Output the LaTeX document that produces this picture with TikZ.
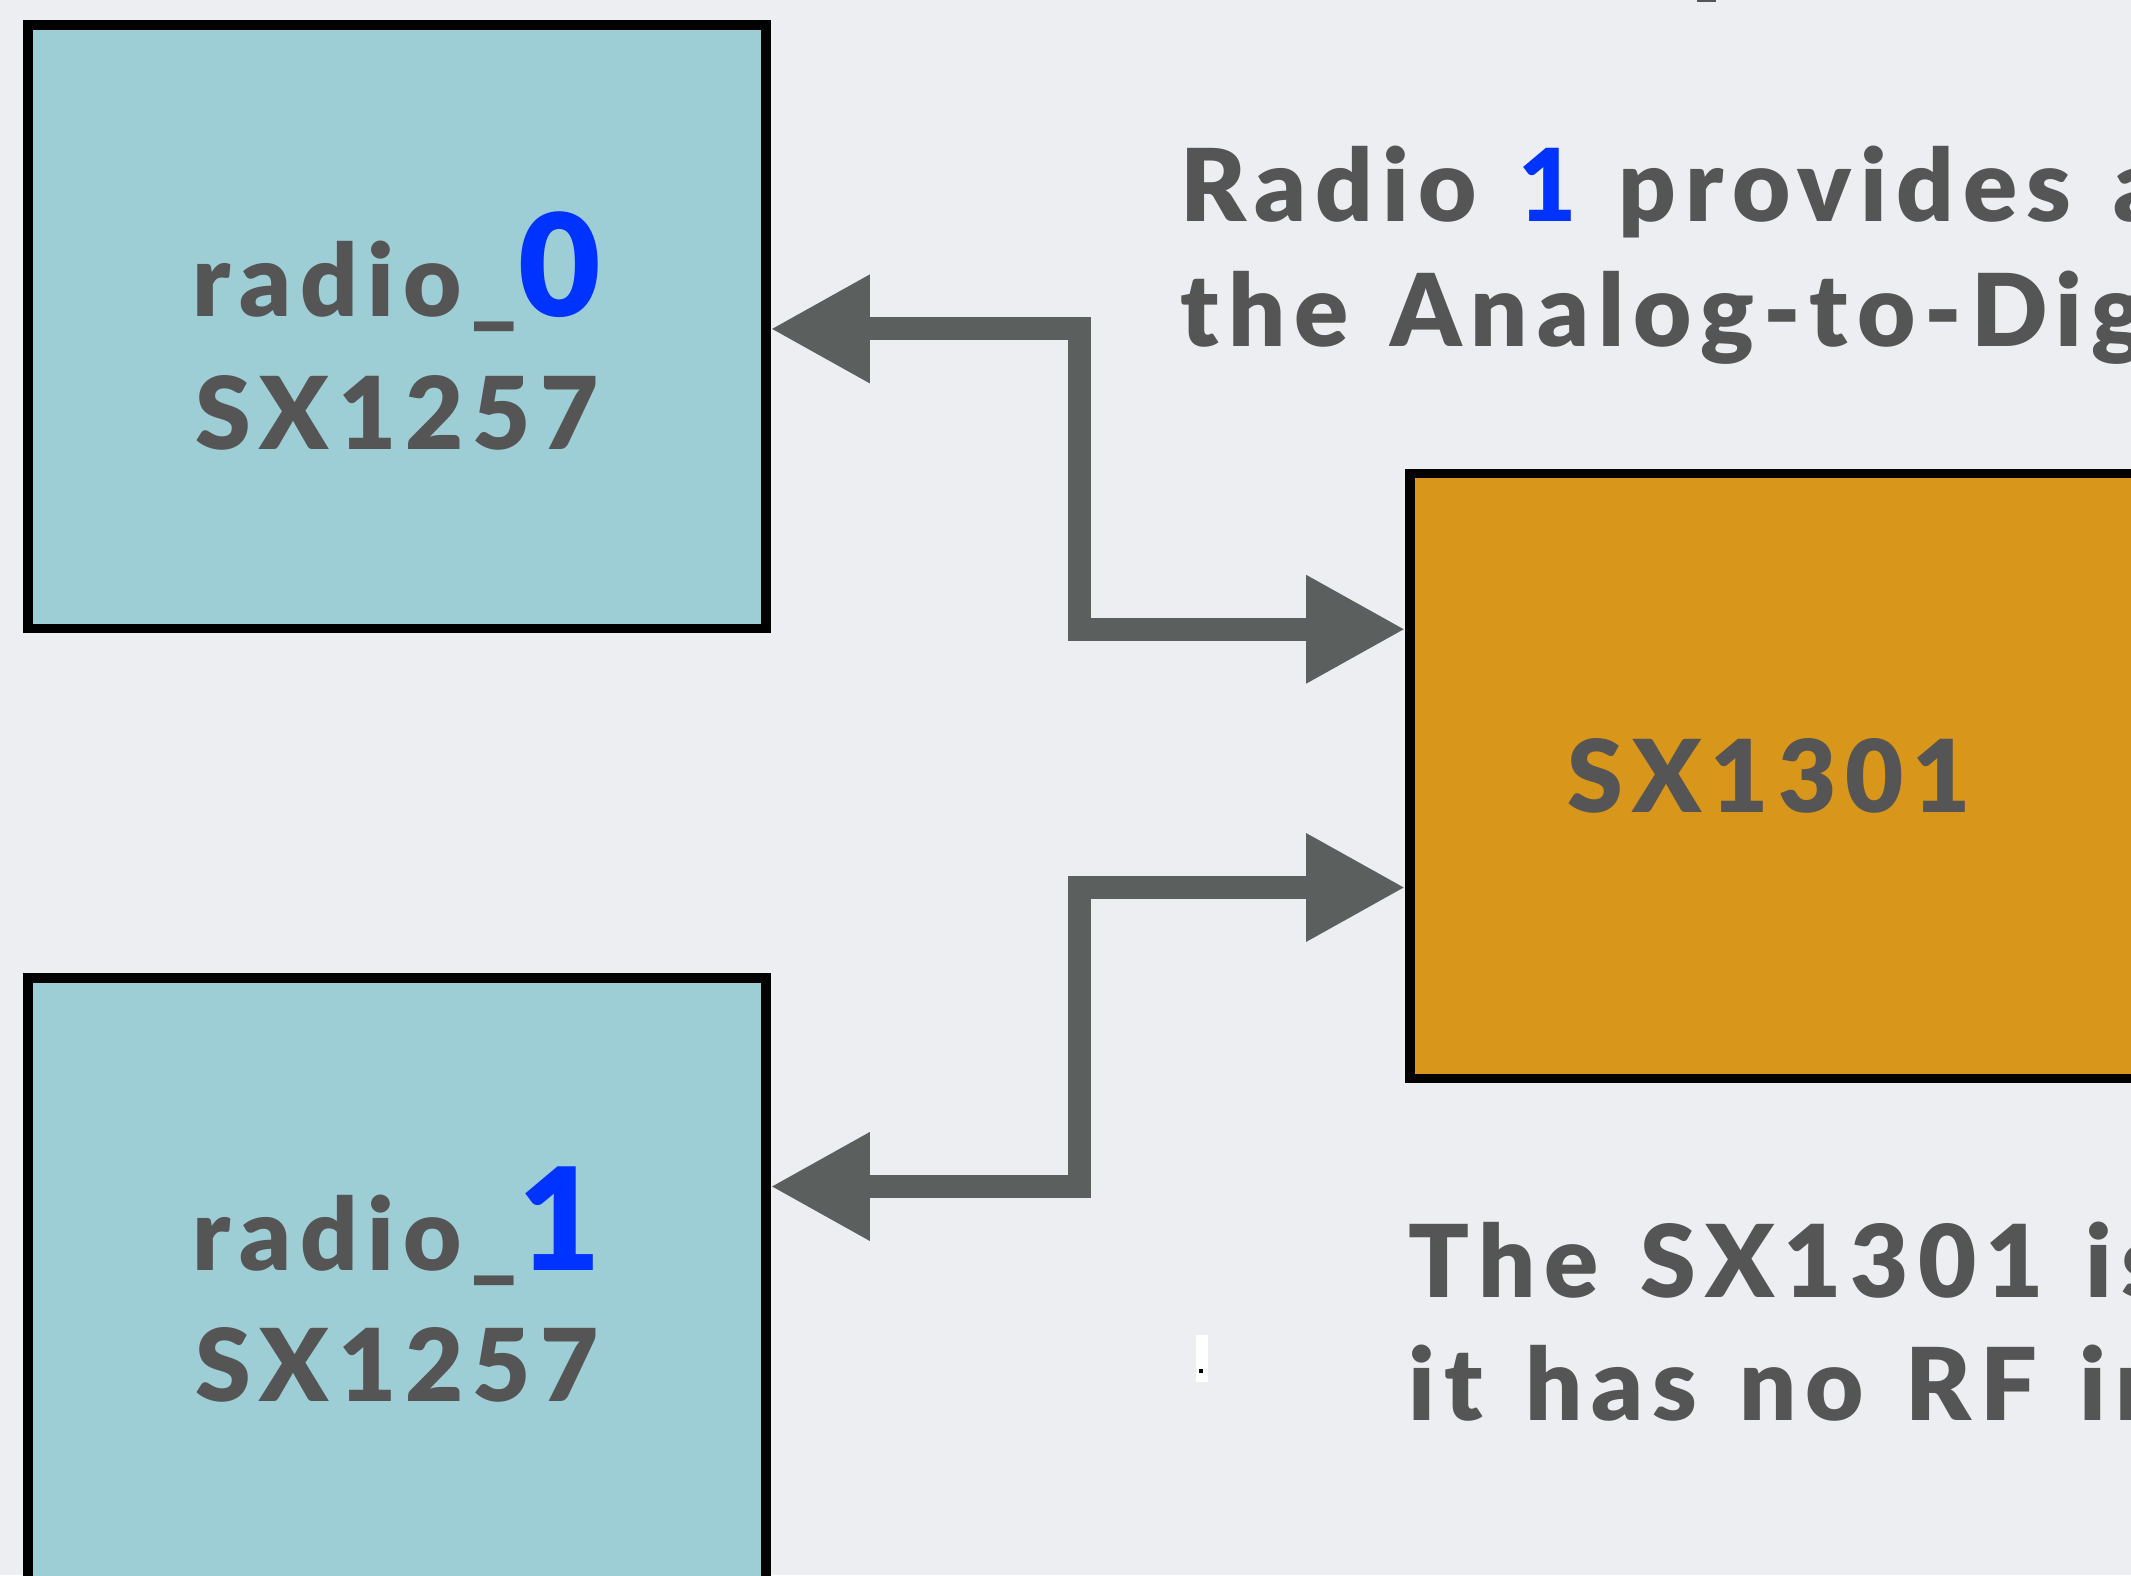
\documentclass[tikz,border=0pt]{standalone}
\usepackage{fontspec}
\newfontfamily\gfont{Lato Black}[LetterSpace=9, WordSpace=1.3]
\usetikzlibrary{arrows.meta}
\newlength\ux
\setlength\ux{0.01359cm}
\definecolor{bgc}{HTML}{ECEEF1}
\definecolor{boxblue}{HTML}{9ECED5}
\definecolor{boxorange}{HTML}{D8961A}
\definecolor{txtgray}{HTML}{555555}
\definecolor{conngray}{HTML}{5B5F5E}
\definecolor{hiblue}{HTML}{0033FF}
\tikzset{
  chip/.style={draw=black, line width=7\ux, inner sep=0pt},
  radiobox/.style={chip, fill=boxblue, minimum width=543\ux},
  mainbox/.style={chip, fill=boxorange},
  lbl/.style={font=\gfont\fontsize{28.6}{35.6}\selectfont, text=txtgray, inner sep=0pt},
  conn/.style={draw=conngray, line width=0.231cm, line join=miter,
    {Triangle[length=0.992cm,width=1.019cm]}-{Triangle[length=0.992cm,width=1.019cm]}},
}
\begin{document}
\begin{tikzpicture}[x=0.01359cm, y=-0.01359cm]
\useasboundingbox (0,0) rectangle (1568,1159);
\fill[bgc] (0,0) rectangle (1568,1159);
% boxes
\node[radiobox, minimum height=444\ux] (r0) at (292,240.5) {};
\node[radiobox, minimum height=561\ux] (r1) at (292,1000) {};
\node[mainbox, minimum width=725\ux, minimum height=445\ux] (sx) at (1400,571) {};
% box texts
\node[lbl, anchor=base] (r0a) at (292,233) {radio\_\textcolor{hiblue}{\fontsize{40.5}{40.5}\selectfont 0}};
\node[lbl, anchor=base] (r0b) at (292,331) {SX1257};
\node[lbl, anchor=base] (r1a) at (292,935) {radio\_\textcolor{hiblue}{\fontsize{40.5}{40.5}\selectfont 1}};
\node[lbl, anchor=base] (r1b) at (292,1031) {SX1257};
\node[lbl, anchor=base] (sxl) at (1302,598) {SX1301};
% paragraph texts
\node[lbl, anchor=base west] (p1) at (868,163) {Radio \textcolor{hiblue}{1} provides a};
\node[lbl, anchor=base west] (p2) at (868,255) {the Analog-to-Dig};
\node[lbl, anchor=base west] (p3) at (1036,955) {The SX1301 is};
\node[lbl, anchor=base west] (p4) at (1036,1045) {it has no RF in};
% connector geometry
\coordinate (y242) at (0,242);
\coordinate (y463) at (0,463);
\coordinate (y653) at (0,653);
\coordinate (y873) at (0,873);
\coordinate (j1) at (794,350);
\coordinate (j2) at (794,760);
\draw[conn] (r0.east |- y242) -| (j1) |- (sx.west |- y463);
\draw[conn] (r1.east |- y873) -| (j2) |- (sx.west |- y653);
% small artefacts
\fill[txtgray] (1249,0) rectangle (1263,1.5);
\fill[white] (880,982) rectangle (889,1017);
\fill[black] (882,1007) rectangle (885,1010);
\end{tikzpicture}
\end{document}
